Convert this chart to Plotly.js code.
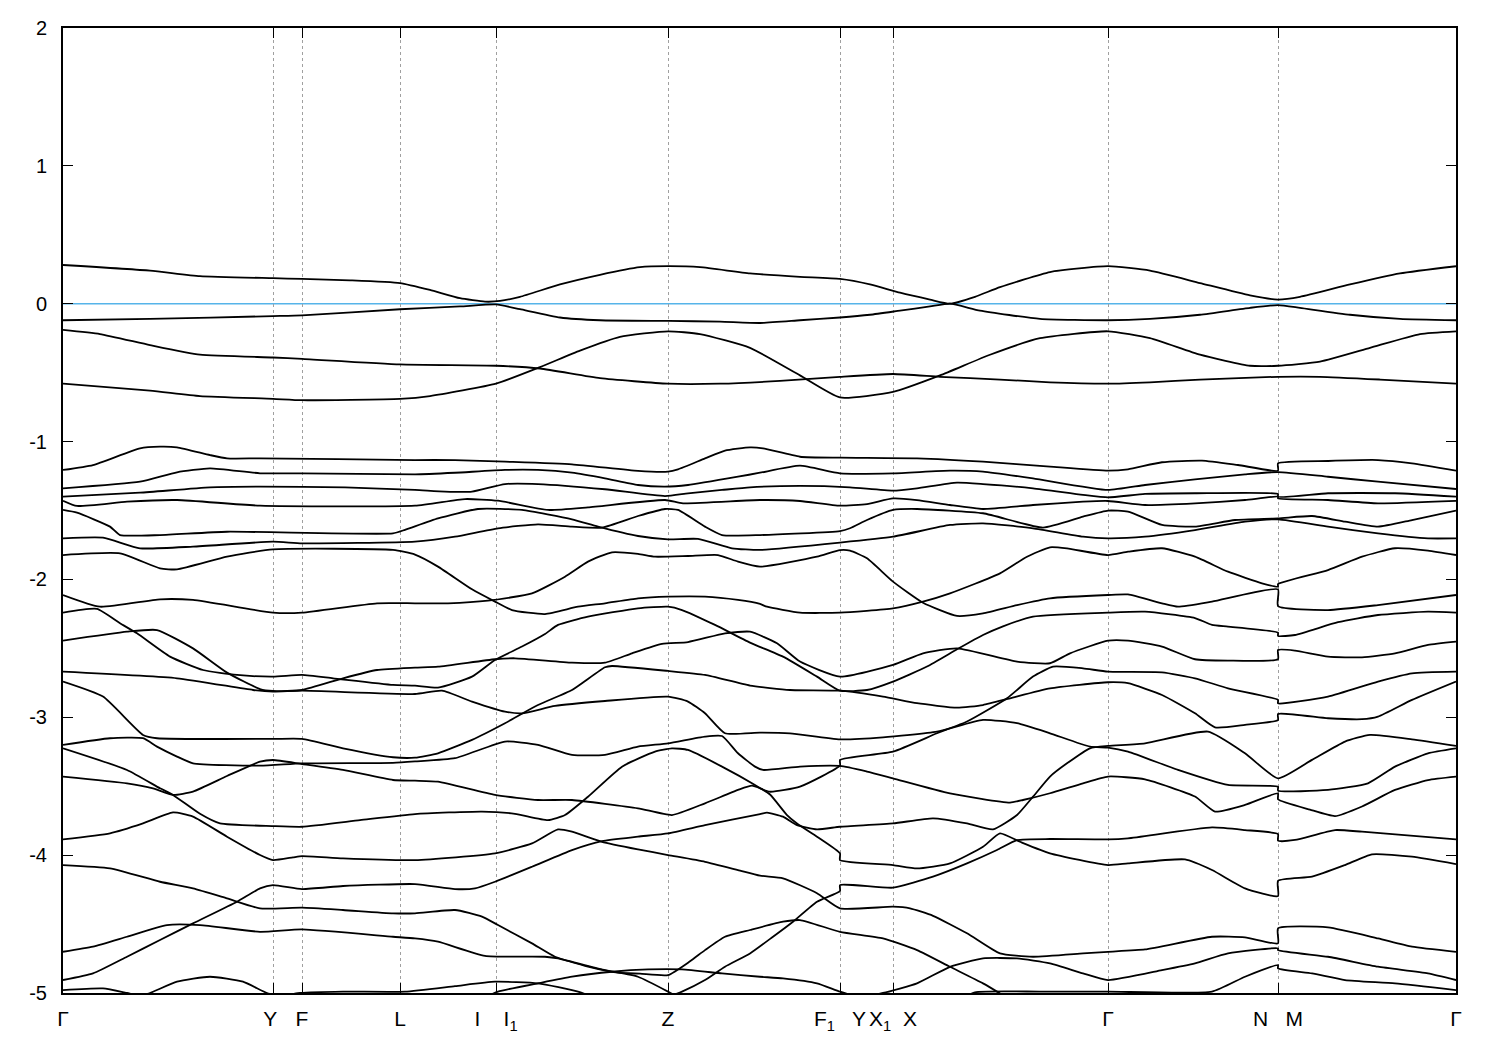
<!DOCTYPE html>
<html>
<head>
<meta charset="utf-8">
<script src="https://cdn.plot.ly/plotly-3.0.1.min.js"></script>
<style>html,body{margin:0;padding:0;background:#fff}#chart{width:1500px;height:1050px}</style>
</head>
<body>
<div id="chart"></div>
<script>
// high-symmetry points along the k-path (path length units)
const kTicks = [0, 210, 239, 337, 433, 605, 777, 830, 1045, 1215, 1393];
const kLabels = ["Γ", "Y ", "F", "L", "I    I<sub>1</sub>", "Z", "F<sub>1</sub>   Y", "X<sub>1</sub>  X", "Γ", "N   M", "Γ"];
const eTicks = [2, 1, 0, -1, -2, -3, -4, -5];
const eLabels = ["2", "1", "0", "-1", "-2", "-3", "-4", "-5"];
const fermiLevel = 0;

// bands near the Fermi level
const k_A = [0,87,137,210,239,287,337,367,397,422,437,457,497,537,577,605,637,687,737,777,807,837,867,887,912,937,987,1045,1087,1137,1187,1215,1237,1287,1337,1393];
const E_A = [0.281,0.24,0.20,0.185,0.18,0.17,0.15,0.10,0.04,0.015,0.02,0.05,0.14,0.21,0.265,0.272,0.265,0.22,0.195,0.18,0.14,0.08,0.03,0.0,0.05,0.12,0.23,0.272,0.24,0.15,0.06,0.03,0.05,0.14,0.22,0.272];
const k_B = [0,87,210,239,337,397,433,457,497,537,605,657,697,737,777,807,837,867,887,917,977,1045,1087,1137,1187,1215,1237,1287,1337,1393];
const E_B = [-0.12,-0.11,-0.09,-0.085,-0.04,-0.02,-0.005,-0.04,-0.1,-0.12,-0.125,-0.13,-0.14,-0.12,-0.1,-0.08,-0.05,-0.02,0.0,-0.05,-0.11,-0.12,-0.11,-0.08,-0.03,-0.01,-0.03,-0.08,-0.11,-0.12];
const k_C = [0,37,87,137,210,239,337,433,477,537,605,657,717,777,830,877,937,987,1045,1087,1137,1215,1257,1317,1393];
const E_C = [-0.19,-0.22,-0.30,-0.37,-0.39,-0.40,-0.44,-0.45,-0.47,-0.54,-0.58,-0.58,-0.56,-0.53,-0.51,-0.53,-0.55,-0.57,-0.58,-0.57,-0.55,-0.53,-0.53,-0.55,-0.58];
const k_D = [0,87,137,210,239,337,367,433,477,517,557,605,637,687,737,777,830,877,927,977,1045,1087,1137,1187,1215,1257,1307,1357,1393];
const E_D = [-0.58,-0.63,-0.67,-0.69,-0.70,-0.69,-0.67,-0.58,-0.46,-0.34,-0.24,-0.20,-0.22,-0.32,-0.52,-0.68,-0.64,-0.52,-0.37,-0.25,-0.20,-0.25,-0.37,-0.45,-0.45,-0.42,-0.32,-0.22,-0.20];

// bands between -1 and -2.3 eV
const k_L1 = [0,30,77,97,114,147,164,197,352,392,442,509,575,605,615,642,662,687,700,737,777,854,920,987,1045,1065,1099,1139,1175,1215,1215,1265,1315,1349,1393];
const E_L1 = [-1.206,-1.17,-1.049,-1.037,-1.042,-1.098,-1.122,-1.122,-1.134,-1.134,-1.146,-1.165,-1.213,-1.218,-1.201,-1.122,-1.066,-1.042,-1.049,-1.11,-1.117,-1.122,-1.146,-1.182,-1.211,-1.201,-1.15,-1.138,-1.17,-1.211,-1.158,-1.141,-1.134,-1.158,-1.211];
const k_L2 = [0,77,114,147,197,239,352,392,442,475,509,542,575,602,625,675,697,737,777,830,887,920,970,1045,1082,1132,1182,1215,1265,1315,1393];
const E_L2 = [-1.339,-1.291,-1.223,-1.194,-1.23,-1.23,-1.238,-1.226,-1.206,-1.206,-1.226,-1.267,-1.315,-1.327,-1.315,-1.255,-1.226,-1.175,-1.23,-1.23,-1.211,-1.218,-1.267,-1.351,-1.315,-1.274,-1.238,-1.221,-1.255,-1.291,-1.344];
const k_L3 = [0,77,147,197,282,352,382,409,442,475,542,602,625,659,687,737,787,830,854,894,920,970,1020,1045,1082,1132,1215,1215,1265,1332,1393];
const E_L3 = [-1.40,-1.371,-1.332,-1.327,-1.332,-1.351,-1.363,-1.363,-1.308,-1.308,-1.346,-1.395,-1.375,-1.351,-1.332,-1.322,-1.332,-1.356,-1.339,-1.298,-1.308,-1.339,-1.387,-1.405,-1.38,-1.375,-1.38,-1.40,-1.375,-1.375,-1.40];
const k_L4 = [0,14,64,114,197,352,402,435,485,525,602,620,697,737,777,804,830,854,887,920,970,1020,1045,1082,1132,1182,1215,1215,1265,1315,1393];
const E_L4 = [-1.429,-1.467,-1.436,-1.424,-1.465,-1.465,-1.417,-1.429,-1.496,-1.477,-1.424,-1.448,-1.424,-1.431,-1.465,-1.453,-1.412,-1.424,-1.46,-1.489,-1.46,-1.436,-1.431,-1.46,-1.448,-1.424,-1.40,-1.412,-1.424,-1.448,-1.43];
const k_L5 = [0,14,47,57,97,164,330,342,375,415,459,509,535,575,605,635,669,697,777,830,887,920,970,1020,1045,1082,1132,1182,1215,1265,1315,1365,1393];
const E_L5 = [-1.496,-1.516,-1.617,-1.678,-1.678,-1.654,-1.666,-1.64,-1.557,-1.489,-1.496,-1.564,-1.617,-1.685,-1.709,-1.706,-1.774,-1.786,-1.733,-1.69,-1.605,-1.593,-1.629,-1.69,-1.702,-1.69,-1.642,-1.581,-1.564,-1.617,-1.666,-1.702,-1.702];
const k_L6 = [0,40,77,130,210,239,352,392,435,475,509,539,575,602,615,642,659,697,777,787,804,830,854,920,980,1020,1045,1065,1099,1132,1172,1215,1249,1282,1315,1349,1393];
const E_L6 = [-1.702,-1.697,-1.774,-1.762,-1.726,-1.738,-1.726,-1.69,-1.629,-1.60,-1.617,-1.624,-1.54,-1.489,-1.496,-1.617,-1.678,-1.678,-1.649,-1.629,-1.569,-1.496,-1.489,-1.52,-1.624,-1.545,-1.501,-1.508,-1.605,-1.617,-1.569,-1.557,-1.54,-1.581,-1.617,-1.569,-1.501];
const k_L7 = [0,57,97,114,164,210,330,352,375,409,432,449,482,515,542,575,605,642,675,697,704,737,777,830,860,887,937,964,987,1004,1045,1065,1099,1132,1165,1199,1215,1215,1265,1299,1332,1365,1393];
const E_L7 = [-1.823,-1.811,-1.92,-1.927,-1.835,-1.782,-1.786,-1.82,-1.907,-2.072,-2.161,-2.222,-2.251,-2.198,-2.173,-2.137,-2.125,-2.125,-2.149,-2.178,-2.198,-2.241,-2.241,-2.21,-2.161,-2.101,-1.956,-1.835,-1.767,-1.775,-1.823,-1.799,-1.774,-1.835,-1.944,-2.028,-2.052,-2.033,-1.932,-1.835,-1.774,-1.791,-1.823];
const k_L8 = [0,37,97,130,210,239,314,352,385,425,469,502,525,549,575,592,625,655,675,697,754,777,787,804,830,860,894,920,954,987,1045,1065,1099,1115,1149,1215,1215,1265,1315,1393];
const E_L8 = [-2.113,-2.198,-2.144,-2.149,-2.241,-2.241,-2.173,-2.173,-2.173,-2.154,-2.101,-1.98,-1.871,-1.803,-1.815,-1.835,-1.83,-1.823,-1.871,-1.907,-1.835,-1.787,-1.791,-1.847,-2.016,-2.169,-2.265,-2.246,-2.186,-2.137,-2.113,-2.109,-2.173,-2.198,-2.161,-2.072,-2.193,-2.222,-2.186,-2.113];

// bands between -2.2 and -3.8 eV
const k_Q = [0,34,57,74,107,140,174,210,239,270,330,352,375,409,432,459,482,495,525,575,605,619,652,687,720,754,777,804,830,864,894,920,940,970,1045,1082,1132,1149,1165,1215,1215,1232,1275,1315,1365,1393];
const E_Q = [-2.241,-2.214,-2.318,-2.391,-2.56,-2.657,-2.693,-2.705,-2.693,-2.717,-2.765,-2.77,-2.785,-2.705,-2.584,-2.487,-2.396,-2.33,-2.27,-2.21,-2.198,-2.222,-2.33,-2.458,-2.56,-2.705,-2.807,-2.802,-2.741,-2.632,-2.507,-2.403,-2.34,-2.27,-2.241,-2.234,-2.28,-2.33,-2.342,-2.386,-2.41,-2.403,-2.31,-2.258,-2.234,-2.241];
const k_P = [0,64,94,130,164,197,210,239,280,314,352,375,432,452,509,542,569,599,625,662,687,714,737,777,830,860,894,954,987,1007,1045,1065,1099,1132,1165,1215,1215,1232,1265,1299,1332,1365,1393];
const E_P = [-2.444,-2.379,-2.367,-2.50,-2.676,-2.795,-2.809,-2.802,-2.717,-2.657,-2.64,-2.633,-2.579,-2.572,-2.604,-2.604,-2.536,-2.468,-2.454,-2.391,-2.379,-2.463,-2.596,-2.705,-2.62,-2.536,-2.5,-2.596,-2.608,-2.536,-2.444,-2.444,-2.487,-2.579,-2.589,-2.579,-2.512,-2.516,-2.56,-2.565,-2.536,-2.475,-2.451];
const k_R = [0,114,190,210,239,352,379,409,442,459,492,542,605,625,642,662,697,727,777,820,874,920,954,987,1027,1045,1065,1115,1165,1215,1215,1265,1305,1332,1365,1393];
const E_R = [-2.669,-2.717,-2.802,-2.814,-2.807,-2.831,-2.807,-2.886,-2.959,-2.971,-2.918,-2.882,-2.85,-2.886,-2.971,-3.116,-3.111,-3.116,-3.16,-3.145,-3.104,-3.019,-3.043,-3.116,-3.213,-3.22,-3.249,-3.382,-3.491,-3.503,-3.532,-3.527,-3.479,-3.358,-3.261,-3.225];
const k_S = [0,40,80,94,210,239,280,330,352,375,409,442,475,509,542,549,605,642,687,727,777,820,854,894,920,947,987,1045,1065,1099,1132,1152,1182,1215,1215,1265,1299,1315,1349,1393];
const E_S = [-2.741,-2.85,-3.128,-3.152,-3.157,-3.157,-3.225,-3.29,-3.293,-3.261,-3.164,-3.043,-2.911,-2.802,-2.637,-2.628,-2.664,-2.693,-2.77,-2.802,-2.807,-2.85,-2.898,-2.93,-2.911,-2.862,-2.79,-2.746,-2.753,-2.838,-2.971,-3.073,-3.055,-3.02,-2.976,-3.007,-3.014,-2.995,-2.874,-2.741];
const k_T = [0,47,80,94,114,130,197,239,330,352,392,442,475,509,542,575,605,642,659,675,692,700,737,777,804,830,887,947,960,987,1020,1045,1082,1132,1152,1182,1215,1215,1247,1272,1299,1332,1365,1393];
const E_T = [-3.20,-3.152,-3.152,-3.213,-3.285,-3.334,-3.351,-3.334,-3.33,-3.32,-3.297,-3.176,-3.2,-3.273,-3.273,-3.213,-3.189,-3.14,-3.136,-3.261,-3.358,-3.382,-3.358,-3.353,-3.394,-3.443,-3.552,-3.619,-3.60,-3.551,-3.479,-3.43,-3.45,-3.575,-3.684,-3.636,-3.551,-3.595,-3.67,-3.717,-3.647,-3.527,-3.455,-3.43];
const k_U = [0,64,97,110,137,157,210,239,297,352,419,452,485,502,525,559,592,609,625,659,692,707,724,734,754,777,777,830,854,887,920,937,957,987,1045,1065,1122,1149,1182,1215,1215,1249,1282,1309,1349,1393];
const E_U = [-3.225,-3.382,-3.515,-3.563,-3.70,-3.77,-3.789,-3.794,-3.746,-3.702,-3.684,-3.70,-3.746,-3.709,-3.576,-3.358,-3.249,-3.225,-3.237,-3.358,-3.491,-3.56,-3.709,-3.77,-3.866,-3.987,-4.036,-4.072,-4.096,-4.06,-3.939,-3.842,-3.903,-3.987,-4.072,-4.06,-4.031,-4.108,-4.241,-4.297,-4.186,-4.156,-4.072,-3.994,-4.011,-4.065];
const k_V = [0,64,90,110,130,164,197,210,239,280,330,352,375,432,475,509,575,609,642,675,689,707,737,777,777,830,874,904,944,970,990,1020,1045,1099,1132,1165,1215,1215,1265,1315,1349,1393];
const E_V = [-3.43,-3.479,-3.515,-3.563,-3.539,-3.426,-3.322,-3.31,-3.339,-3.382,-3.455,-3.46,-3.467,-3.563,-3.60,-3.60,-3.66,-3.709,-3.624,-3.527,-3.496,-3.54,-3.503,-3.35,-3.309,-3.249,-3.116,-3.031,-2.862,-2.705,-2.633,-2.645,-2.669,-2.674,-2.717,-2.79,-2.874,-2.899,-2.85,-2.741,-2.681,-2.669];

// bands between -3.7 and -5 eV
const k_a = [0,47,80,110,130,164,197,210,230,239,280,352,432,469,495,509,539,575,605,642,675,697,720,754,777,830,847,870,904,937,970,1020,1045,1082,1149,1182,1215,1215,1265,1315,1349,1393];
const E_a = [-3.886,-3.842,-3.77,-3.69,-3.72,-3.866,-3.999,-4.036,-4.016,-4.007,-4.024,-4.036,-3.987,-3.915,-3.813,-3.83,-3.903,-3.958,-3.999,-4.048,-4.108,-4.149,-4.168,-4.276,-4.386,-4.374,-4.386,-4.44,-4.567,-4.713,-4.737,-4.713,-4.701,-4.684,-4.592,-4.596,-4.64,-4.531,-4.524,-4.604,-4.664,-4.701];
const k_d = [0,30,64,97,130,174,197,210,239,280,352,392,412,432,469,509,539,575,605,642,697,704,720,734,754,777,830,870,904,930,954,970,987,1004,1027,1045,1082,1145,1182,1215,1249,1282,1307,1349,1393];
const E_d = [-4.906,-4.858,-4.737,-4.616,-4.495,-4.338,-4.241,-4.217,-4.246,-4.224,-4.21,-4.246,-4.241,-4.193,-4.084,-3.963,-3.898,-3.866,-3.842,-3.782,-3.702,-3.692,-3.721,-3.782,-3.813,-3.794,-3.77,-3.733,-3.77,-3.813,-3.709,-3.576,-3.43,-3.334,-3.225,-3.208,-3.189,-3.104,-3.261,-3.443,-3.309,-3.176,-3.128,-3.16,-3.208];
const k_e = [0,30,64,104,137,197,239,330,352,375,422,482,495,542,575,605,627];
const E_e = [-4.701,-4.664,-4.592,-4.507,-4.507,-4.556,-4.539,-4.592,-4.604,-4.628,-4.73,-4.737,-4.749,-4.834,-4.882,-4.99,-5.08];
const k_c = [0,47,97,130,164,197,239,280,330,352,392,419,435,469,492,525,555,577,605,627,642,662,687,720,737,777,820,854,887,920,934,949];
const E_c = [-4.072,-4.096,-4.193,-4.241,-4.314,-4.386,-4.381,-4.398,-4.422,-4.422,-4.398,-4.446,-4.507,-4.64,-4.737,-4.809,-4.853,-4.86,-4.87,-4.77,-4.689,-4.592,-4.543,-4.483,-4.471,-4.556,-4.604,-4.689,-4.81,-4.93,-4.99,-5.06];
const k_f = [0,40,64,77,87,114,147,180,204,217,237,280,342,392,432,475,515,537];
const E_f = [-4.979,-4.967,-5.0,-5.02,-5.0,-4.918,-4.882,-4.918,-5.0,-5.02,-5.0,-4.99,-4.99,-4.95,-4.918,-4.93,-4.99,-5.05];
const k_f2 = [897,912,977,1045,1149,1182,1215,1215,1249,1282,1332,1393];
const E_f2 = [-5.05,-4.995,-4.99,-4.99,-4.99,-4.882,-4.797,-4.822,-4.858,-4.906,-4.93,-4.979];
const k_h = [417,435,475,509,549,585,619,659,697,720,754,777,797,820,854,887,920,954,987,1020,1045,1099,1132,1165,1215,1215,1265,1315,1365,1393];
const E_h = [-5.05,-4.99,-4.93,-4.882,-4.846,-4.829,-4.829,-4.858,-4.882,-4.894,-4.93,-4.99,-5.03,-5.0,-4.93,-4.81,-4.749,-4.749,-4.785,-4.858,-4.906,-4.834,-4.785,-4.713,-4.676,-4.689,-4.737,-4.809,-4.858,-4.906];
const k_g = [597,619,642,662,687,710,730,754,777,777,830,870,904,934,954,987,1045,1065,1149,1182,1215,1215,1232,1272,1299,1393];
const E_g = [-5.05,-4.99,-4.906,-4.809,-4.713,-4.592,-4.483,-4.338,-4.26,-4.217,-4.236,-4.156,-4.06,-3.963,-3.891,-3.883,-3.886,-3.878,-3.799,-3.818,-3.847,-3.895,-3.89,-3.818,-3.83,-3.886];

const bands = [
  [k_A,E_A],[k_B,E_B],[k_C,E_C],[k_D,E_D],
  [k_L1,E_L1],[k_L2,E_L2],[k_L3,E_L3],[k_L4,E_L4],[k_L5,E_L5],[k_L6,E_L6],[k_L7,E_L7],[k_L8,E_L8],
  [k_Q,E_Q],[k_P,E_P],[k_R,E_R],[k_S,E_S],[k_T,E_T],[k_U,E_U],[k_V,E_V],
  [k_a,E_a],[k_d,E_d],[k_e,E_e],[k_c,E_c],[k_f,E_f],[k_f2,E_f2],[k_h,E_h],[k_g,E_g]
];

const traces = bands.map(([k, E]) => ({
  x: k, y: E, type: 'scatter', mode: 'lines',
  line: {color: '#000000', width: 1.8, shape: 'spline', smoothing: 0.5},
  hoverinfo: 'skip', showlegend: false
}));

const fam = '"Liberation Sans", Arial, sans-serif';

const layout = {
  width: 1500, height: 1050,
  margin: {l: 63, r: 44, t: 28, b: 57},
  paper_bgcolor: '#fff', plot_bgcolor: '#fff',
  showlegend: false,
  font: {family: fam, size: 20, color: '#000'},
  xaxis: {
    range: [kTicks[0], kTicks[kTicks.length - 1]],
    tickmode: 'array', tickvals: kTicks, ticktext: kLabels,
    ticks: 'inside', ticklen: 10, tickwidth: 1, tickcolor: '#000',
    showline: true, linecolor: '#000', linewidth: 2, mirror: 'ticks',
    showgrid: true, gridcolor: '#a0a0a0', griddash: 'dot', gridwidth: 1,
    zeroline: false, ticklabelstandoff: 6,
    tickfont: {family: fam, size: 21, color: '#000'}
  },
  yaxis: {
    range: [-5, 2], tickmode: 'array', tickvals: eTicks, ticktext: eLabels,
    ticks: 'inside', ticklen: 10, tickwidth: 1, tickcolor: '#000',
    showline: true, linecolor: '#000', linewidth: 2, mirror: 'ticks',
    showgrid: false, zeroline: false, ticklabelstandoff: 10,
    tickfont: {family: fam, size: 20, color: '#000'}
  },
  shapes: [{
    type: 'line', xref: 'paper', x0: 0, x1: 1, yref: 'y', y0: fermiLevel, y1: fermiLevel,
    line: {color: '#56b4e9', width: 1.5}, layer: 'below'
  }]
};

Plotly.newPlot('chart', traces, layout, {displayModeBar: false, staticPlot: true});
</script>
</body>
</html>
